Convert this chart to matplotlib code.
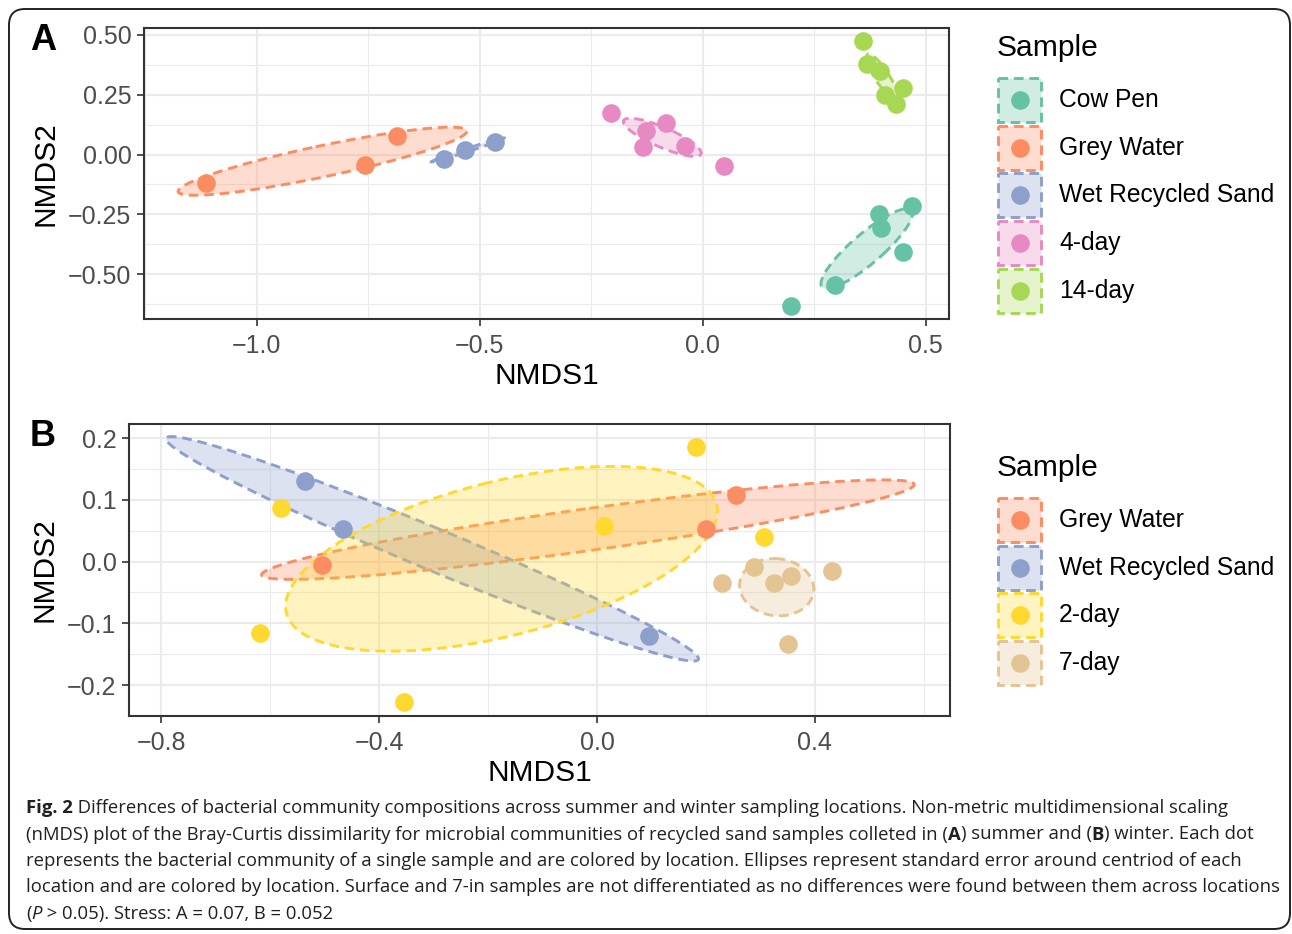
import numpy as np
import matplotlib.pyplot as plt
from matplotlib.patches import Ellipse, Rectangle, FancyBboxPatch
from matplotlib.ticker import FuncFormatter, MultipleLocator

plt.rcParams['font.family'] = ['Liberation Sans', 'DejaVu Sans']

# -----------------------
# Colours (ColorBrewer Set2)
# -----------------------
colors = {
    "Cow Pen": "#66C2A5",
    "Grey Water": "#FC8D62",
    "Wet Recycled Sand": "#8DA0CB",
    "4-day": "#E78AC3",
    "14-day": "#A6D854",
    "2-day": "#FFD92F",
    "7-day": "#E5C494",
}

# -----------------------
# Panel A (summer) NMDS scores
# -----------------------
a_groups = ["Cow Pen", "Grey Water", "Wet Recycled Sand", "4-day", "14-day"]
a_cowpen_x = [0.197, 0.296, 0.395, 0.399, 0.448, 0.469]
a_cowpen_y = [-0.633, -0.546, -0.250, -0.308, -0.408, -0.217]
a_grey_x = [-1.114, -0.758, -0.686]
a_grey_y = [-0.121, -0.042, 0.079]
a_wet_x = [-0.581, -0.534, -0.466]
a_wet_y = [-0.017, 0.021, 0.054]
a_day4_x = [-0.206, -0.128, -0.135, -0.083, -0.040, 0.047]
a_day4_y = [0.175, 0.100, 0.033, 0.133, 0.037, -0.046]
a_day14_x = [0.359, 0.368, 0.397, 0.408, 0.448, 0.433]
a_day14_y = [0.475, 0.379, 0.350, 0.250, 0.279, 0.212]

# -----------------------
# Panel B (winter) NMDS scores
# -----------------------
b_groups = ["Grey Water", "Wet Recycled Sand", "2-day", "7-day"]
b_grey_x = [-0.505, 0.200, 0.255]
b_grey_y = [-0.006, 0.053, 0.108]
b_wet_x = [-0.536, -0.466, 0.095]
b_wet_y = [0.130, 0.053, -0.121]
b_day2_x = [-0.580, -0.618, -0.354, 0.013, 0.182, 0.306]
b_day2_y = [0.087, -0.115, -0.228, 0.057, 0.186, 0.040]
b_day7_x = [0.229, 0.288, 0.325, 0.356, 0.431, 0.350]
b_day7_y = [-0.034, -0.008, -0.034, -0.023, -0.016, -0.134]

a_data = [(a_cowpen_x, a_cowpen_y), (a_grey_x, a_grey_y), (a_wet_x, a_wet_y),
          (a_day4_x, a_day4_y), (a_day14_x, a_day14_y)]
b_data = [(b_grey_x, b_grey_y), (b_wet_x, b_wet_y),
          (b_day2_x, b_day2_y), (b_day7_x, b_day7_y)]

DASH = (0, (3.3, 2.0))
EDGE_LW = 2.1
PT_SIZE = 180
CHI2_95 = 5.991  # qchisq(0.95, 2)


def se_ellipse(ax, x, y, color, z):
    """Standard-error ellipse (95%) around the group centroid."""
    x = np.asarray(x)
    y = np.asarray(y)
    cov = np.cov(x, y) / len(x) * CHI2_95
    vals, vecs = np.linalg.eigh(cov)
    vals, vecs = vals[::-1], vecs[:, ::-1]
    angle = np.degrees(np.arctan2(vecs[1, 0], vecs[0, 0]))
    w, h = 2 * np.sqrt(np.clip(vals, 0, None))
    ax.add_patch(Ellipse((x.mean(), y.mean()), w, h, angle=angle,
                         facecolor=(color, 0.3), edgecolor=color,
                         lw=EDGE_LW, ls=DASH, zorder=z))


def fmt(decimals):
    return FuncFormatter(lambda v, p: f"{v:.{decimals}f}".replace("-", "\u2212"))


def style_axes(ax, xlim, ylim, xstep, ystep, xdec, ydec):
    ax.set_xlim(*xlim)
    ax.set_ylim(*ylim)
    ax.xaxis.set_major_locator(MultipleLocator(xstep))
    ax.xaxis.set_minor_locator(MultipleLocator(xstep / 2))
    ax.yaxis.set_major_locator(MultipleLocator(ystep))
    ax.yaxis.set_minor_locator(MultipleLocator(ystep / 2))
    ax.xaxis.set_major_formatter(fmt(xdec))
    ax.yaxis.set_major_formatter(fmt(ydec))
    ax.grid(which="major", color="#EBEBEB", lw=1.5)
    ax.grid(which="minor", color="#EBEBEB", lw=0.8)
    ax.set_axisbelow(True)
    ax.tick_params(which="minor", length=0)
    ax.tick_params(which="major", length=5, width=1.2, color="#333333",
                   labelcolor="#4D4D4D", labelsize=18, pad=4)
    ax.tick_params(axis="x", pad=6)
    for s in ax.spines.values():
        s.set_color("#333333")
        s.set_linewidth(1.5)
    ax.set_xlabel("NMDS1", fontsize=21.5, labelpad=3)
    ax.set_ylabel("NMDS2", fontsize=21.5, labelpad=6)


def draw_panel(ax, groups, data):
    for i, (g, (x, y)) in enumerate(zip(groups, data)):
        se_ellipse(ax, x, y, colors[g], 2 + i * 0.01)
    for g, (x, y) in zip(groups, data):
        ax.scatter(x, y, s=PT_SIZE, color=colors[g], lw=0, zorder=3)


# -----------------------
# Figure
# -----------------------
W, H = 1292, 934
fig = plt.figure(figsize=(W / 100, H / 100), dpi=100)

axA = fig.add_axes([144 / W, 1 - 319 / H, (949 - 144) / W, (319 - 28) / H])
draw_panel(axA, a_groups, a_data)
style_axes(axA, (-1.253, 0.552), (-0.6875, 0.529), 0.5, 0.25, 1, 2)

axB = fig.add_axes([129 / W, 1 - 716 / H, (950 - 129) / W, (716 - 424) / H])
draw_panel(axB, b_groups, b_data)
style_axes(axB, (-0.859, 0.648), (-0.250, 0.2227), 0.4, 0.1, 1, 1)

# overlay in pixel coordinates for legends, border, letters and caption
ov = fig.add_axes([0, 0, 1, 1])
ov.set_xlim(0, W)
ov.set_ylim(H, 0)
ov.axis("off")

ov.add_patch(FancyBboxPatch((9, 9), W - 11, H - 14,
                            boxstyle="round,pad=0,rounding_size=16",
                            facecolor="none", edgecolor="#222222", lw=1.4))

ov.text(30, 40, "A", fontsize=26, fontweight="bold", va="center")
ov.text(30, 436, "B", fontsize=26, fontweight="bold", va="center")


def draw_legend(groups, title_y, first_y, step=47.7):
    ov.text(997, title_y, "Sample", fontsize=21.6, va="center", ha="left")
    for i, g in enumerate(groups):
        cy = first_y + i * step
        c = colors[g]
        ov.add_patch(Rectangle((998, cy - 22), 43, 44, facecolor=(c, 0.3),
                               edgecolor=c, lw=EDGE_LW, ls=DASH))
        ov.scatter([1019.5], [cy], s=PT_SIZE, color=c, lw=0)
        ov.text(1059, cy, g, fontsize=17.7, va="center", ha="left")


draw_legend(a_groups, 48, 100)
draw_legend(b_groups, 468, 520)

# -----------------------
# Caption
# -----------------------
cap_font = ["Open Sans", "DejaVu Sans"]
cap_lines = [
    [("Fig. 2", "bold", "normal"),
     (" Differences of bacterial community compositions across summer and winter "
      "sampling locations. Non-metric multidimensional scaling", "normal", "normal")],
    [("(nMDS) plot of the Bray-Curtis dissimilarity for microbial communities of "
      "recycled sand samples colleted in (", "normal", "normal"),
     ("A", "bold", "normal"), (") summer and (", "normal", "normal"),
     ("B", "bold", "normal"), (") winter. Each dot", "normal", "normal")],
    [("represents the bacterial community of a single sample and are colored by "
      "location. Ellipses represent standard error around centriod of each",
      "normal", "normal")],
    [("location and are colored by location. Surface and 7-in samples are not "
      "differentiated as no differences were found between them across locations",
      "normal", "normal")],
    [("(", "normal", "normal"), ("P", "normal", "italic"),
     (" > 0.05). Stress: A = 0.07, B = 0.052", "normal", "normal")],
]

# fit the caption size so the longest line spans the box width
probe = ov.text(0, 0, cap_lines[3][0][0], fontsize=10, family=cap_font)
fig.canvas.draw()
cap_size = 10 * 1252 / probe.get_window_extent().width
probe.remove()

for i, segs in enumerate(cap_lines):
    base = 813 + i * 26.5
    prev = None
    for text, weight, style in segs:
        kw = dict(fontsize=cap_size, family=cap_font, fontweight=weight,
                  fontstyle=style, color="#231F20", ha="left")
        if prev is None:
            prev = ov.text(26, base, text, va="baseline", **kw)
        else:
            prev = ov.annotate(text, xy=(1, 0), xycoords=prev, va="bottom", **kw)

fig.savefig("out.png", dpi=100)
